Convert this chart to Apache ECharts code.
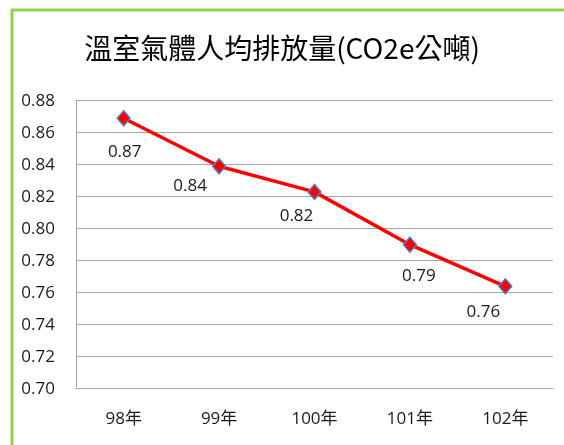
<!DOCTYPE html>
<html>
<head>
<meta charset="utf-8">
<script src="https://cdn.jsdelivr.net/npm/echarts@6/dist/echarts.min.js"></script>
<style>
  html, body { margin: 0; padding: 0; background: #ffffff; }
  #chart { width: 564px; height: 445px; }
</style>
</head>
<body>
<div id="chart"></div>
<script>
// Per-capita greenhouse gas emissions (CO2e tonnes), ROC years 98-102
const years = ['98年', '99年', '100年', '101年', '102年'];
const emissions = [0.869, 0.839, 0.823, 0.790, 0.764];
const yTicks = { min: 0.70, max: 0.88, step: 0.02 };

// where each value label sits relative to its point
const labelShift = [[1, 34], [-29, 20], [-18, 24], [9, 31], [-22, 26]];

const font = '"Open Sans", "Noto Sans CJK TC", sans-serif';

const chart = echarts.init(document.getElementById('chart'), null, { renderer: 'canvas' });

chart.setOption({
  backgroundColor: '#ffffff',
  animation: false,
  title: {
    text: '溫室氣體人均排放量(CO2e公噸)',
    left: 'center',
    top: 29,
    textStyle: {
      fontFamily: '"Noto Sans CJK TC", sans-serif',
      fontSize: 28,
      fontWeight: 'normal',
      color: '#000000'
    }
  },
  graphic: [{
    type: 'rect',
    shape: { x: 12, y: 10, width: 600, height: 500 },
    style: { fill: 'none', stroke: '#92D050', lineWidth: 3 },
    silent: true
  }],
  grid: { left: 76, right: 11, top: 100.7, bottom: 56.3, containLabel: false },
  xAxis: {
    type: 'category',
    data: years,
    boundaryGap: true,
    axisLine: { show: true, lineStyle: { color: '#A6A6A6', width: 1 } },
    axisTick: { show: false },
    axisLabel: { margin: 22, fontFamily: font, fontSize: 17, color: '#1a1a1a' },
    splitLine: { show: false }
  },
  yAxis: {
    type: 'value',
    min: yTicks.min,
    max: yTicks.max,
    interval: yTicks.step,
    axisLine: { show: true, lineStyle: { color: '#A6A6A6', width: 1 } },
    axisTick: { show: false },
    axisLabel: {
      margin: 21,
      fontFamily: font,
      fontSize: 17,
      color: '#1a1a1a',
      formatter: v => v.toFixed(2)
    },
    splitLine: { show: true, lineStyle: { color: '#A6A6A6', width: 1 } }
  },
  series: [{
    type: 'line',
    data: emissions.map((v, i) => ({
      value: v,
      label: { offset: labelShift[i] }
    })),
    symbol: 'diamond',
    symbolSize: [13, 15],
    lineStyle: { color: '#FF0000', width: 3.5 },
    itemStyle: { color: '#FF0000', borderColor: '#4F81BD', borderWidth: 1.5 },
    label: {
      show: true,
      position: 'inside',
      fontFamily: font,
      fontSize: 17,
      color: '#1a1a1a',
      formatter: p => p.value.toFixed(2)
    }
  }]
});
</script>
</body>
</html>
